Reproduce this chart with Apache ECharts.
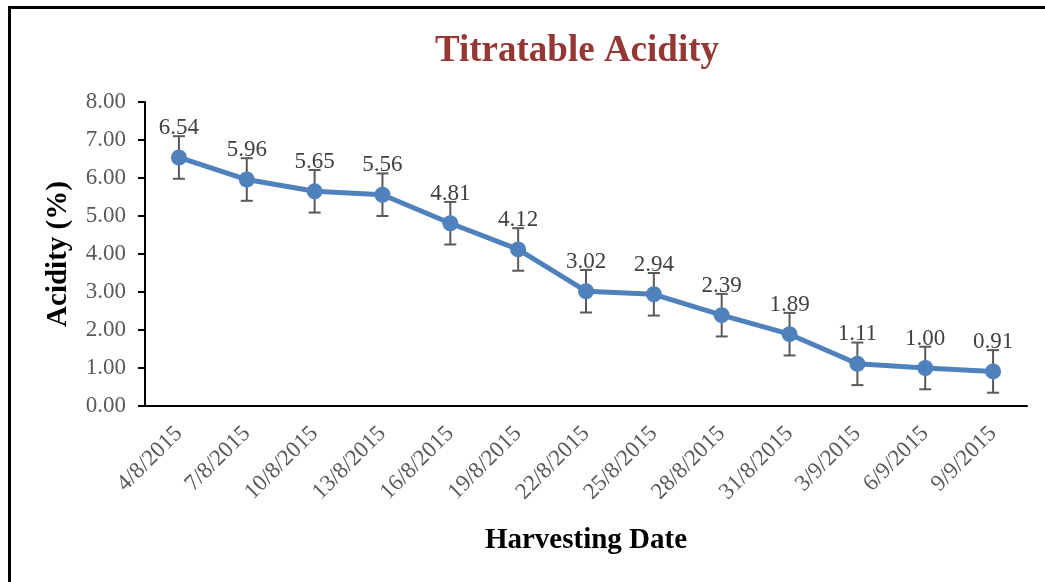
<!DOCTYPE html>
<html>
<head>
<meta charset="utf-8">
<title>Titratable Acidity</title>
<script src="https://cdn.jsdelivr.net/npm/echarts@6/dist/echarts.min.js"></script>
<style>
  html, body { margin: 0; padding: 0; background: #fff; }
  #wrap { position: relative; width: 1045px; height: 582px; }
  #frame { position: absolute; left: 8px; top: 6px; width: 1040px; height: 600px;
           border-left: 3px solid #000; border-top: 3px solid #000; box-sizing: border-box; }
  #chart { position: absolute; left: 0; top: 0; width: 1045px; height: 582px; }
</style>
</head>
<body>
<div id="wrap">
  <div id="frame"></div>
  <div id="chart"></div>
</div>
<script>
// Harvest dates and mean titratable acidity (%)
const dates = ['4/8/2015', '7/8/2015', '10/8/2015', '13/8/2015', '16/8/2015', '19/8/2015',
               '22/8/2015', '25/8/2015', '28/8/2015', '31/8/2015', '3/9/2015', '6/9/2015', '9/9/2015'];
const acidity = [6.54, 5.96, 5.65, 5.56, 4.81, 4.12, 3.02, 2.94, 2.39, 1.89, 1.11, 1.00, 0.91];
// Standard error for each harvest
const errors = [0.56, 0.56, 0.56, 0.56, 0.56, 0.56, 0.56, 0.56, 0.56, 0.56, 0.56, 0.56, 0.56];
const yTicks = [0, 1, 2, 3, 4, 5, 6, 7, 8];

const FONT = '"Liberation Serif", "Times New Roman", serif';
const errData = acidity.map((v, i) => [i, v - errors[i], v + errors[i]]);

const chart = echarts.init(document.getElementById('chart'), null, { renderer: 'canvas' });
chart.setOption({
  animation: false,
  backgroundColor: 'transparent',
  title: {
    text: 'Titratable Acidity',
    left: 572, top: 28, textAlign: 'center',
    textStyle: { fontFamily: FONT, fontSize: 37, fontWeight: 'bold', color: '#953735' }
  },
  grid: { left: 145, right: 18, top: 102, bottom: 176 },
  xAxis: {
    type: 'category',
    data: dates,
    boundaryGap: true,
    name: 'Harvesting Date',
    nameLocation: 'middle',
    nameGap: 120,
    nameTextStyle: { fontFamily: FONT, fontSize: 29, fontWeight: 'bold', color: '#000' },
    axisLine: { lineStyle: { color: '#000', width: 2 } },
    axisTick: { alignWithLabel: true, length: 6, lineStyle: { color: '#000', width: 2 } },
    axisLabel: { rotate: 45, margin: 24, fontFamily: FONT, fontSize: 23, color: '#595959', interval: 0 },
    splitLine: { show: false }
  },
  yAxis: {
    type: 'value',
    min: yTicks[0], max: yTicks[yTicks.length - 1], interval: 1,
    name: 'Acidity (%)',
    nameLocation: 'middle',
    nameGap: 72,
    nameTextStyle: { fontFamily: FONT, fontSize: 29, fontWeight: 'bold', color: '#000' },
    axisLine: { show: true, lineStyle: { color: '#000', width: 2 } },
    axisTick: { show: true, length: 7, lineStyle: { color: '#000', width: 2 } },
    axisLabel: { margin: 19, fontFamily: FONT, fontSize: 23, color: '#595959',
                 formatter: v => v.toFixed(2) },
    splitLine: { show: false }
  },
  series: [
    {
      type: 'line',
      data: acidity,
      symbol: 'circle',
      symbolSize: 16,
      itemStyle: { color: '#4F81BD' },
      lineStyle: { color: '#4F81BD', width: 5 },
      label: {
        show: true, position: 'top', distance: 10,
        fontFamily: FONT, fontSize: 23, color: '#404040',
        formatter: p => p.value.toFixed(2)
      },
      z: 3
    },
    {
      type: 'custom',
      data: errData,
      z: 2,
      renderItem: function (params, api) {
        const x = api.value(0);
        const lo = api.coord([x, api.value(1)]);
        const hi = api.coord([x, api.value(2)]);
        const cap = 6;
        const style = { stroke: '#595959', lineWidth: 2 };
        return {
          type: 'group',
          children: [
            { type: 'line', shape: { x1: lo[0], y1: lo[1], x2: hi[0], y2: hi[1] }, style },
            { type: 'line', shape: { x1: lo[0] - cap, y1: lo[1], x2: lo[0] + cap, y2: lo[1] }, style },
            { type: 'line', shape: { x1: hi[0] - cap, y1: hi[1], x2: hi[0] + cap, y2: hi[1] }, style }
          ]
        };
      }
    }
  ]
});
</script>
</body>
</html>
